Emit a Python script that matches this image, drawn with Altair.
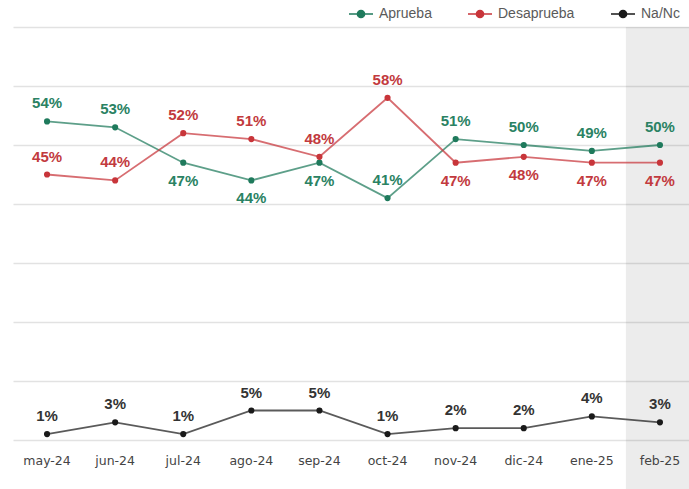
import altair as alt
import pandas as pd

months = ["may-24", "jun-24", "jul-24", "ago-24", "sep-24", "oct-24",
          "nov-24", "dic-24", "ene-25", "feb-25"]
series = ["Aprueba", "Desaprueba", "Na/Nc"]
aprueba = [54, 53, 47, 44, 47, 41, 51, 50, 49, 50]
desaprueba = [45, 44, 52, 51, 48, 58, 47, 48, 47, 47]
nanc = [1, 3, 1, 5, 5, 1, 2, 2, 4, 3]
# which side of the point each value label sits on
aprueba_side = ["above", "above", "below", "below", "below", "above", "above", "above", "above", "above"]
desaprueba_side = ["above", "above", "above", "above", "above", "above", "below", "below", "below", "below"]
nanc_side = ["above"] * 10
highlight = ["feb-25"]

colors = {"Aprueba": "#1f7a5c", "Desaprueba": "#c8353a", "Na/Nc": "#1a1a1a"}
label_colors = {"Aprueba": "#2a8263", "Desaprueba": "#c23a3e", "Na/Nc": "#333333"}

rows = []
for name, vals, sides in [("Aprueba", aprueba, aprueba_side),
                          ("Desaprueba", desaprueba, desaprueba_side),
                          ("Na/Nc", nanc, nanc_side)]:
    for m, v, s in zip(months, vals, sides):
        rows.append({"month": m, "serie": name, "value": v, "side": s,
                     "label": f"{v}%"})
df = pd.DataFrame(rows)
hl = pd.DataFrame({"month": highlight})

xscale = alt.Scale(type="band", domain=months, paddingInner=0, paddingOuter=0, range=[0, 681])
xenc = alt.X("month:N", sort=months, scale=xscale,
             axis=alt.Axis(title=None, labelAngle=0, labelAlign="center", bandPosition=0.5,
                           domain=False, ticks=False,
                           labelPadding=20, labelColor="#444444", labelFontSize=12.5,
                           labelFont="DejaVu Sans", grid=False))
yscale = alt.Scale(domain=[0, 70])
yenc = alt.Y("value:Q", scale=yscale,
             axis=alt.Axis(title=None, values=[0, 10, 20, 30, 40, 50, 60, 70],
                           labels=False, ticks=False, domain=False,
                           gridColor="#e2e2e2", gridWidth=1.5))

sym = "M-1,0L1,0M-0.3,0A0.3,0.3,0,1,0,0.3,0A0.3,0.3,0,1,0,-0.3,0Z"
cscale = alt.Scale(domain=series, range=[colors[s] for s in series])
color = alt.Color("serie:N", scale=cscale,
                  legend=alt.Legend(title=None, orient="none", direction="horizontal",
                                    legendX=335, legendY=-26, symbolType=sym,
                                    symbolSize=576, symbolStrokeWidth=1.5,
                                    symbolOpacity=1,
                                    labelFontSize=14, labelColor="#5a5a5a",
                                    labelFont="Liberation Sans", columnPadding=33,
                                    labelOffset=5))

shade = alt.Chart(hl).mark_rect(color="#000000", opacity=0.075).encode(
    x=alt.X("month:N", sort=months, scale=xscale),
    y=alt.value(0), y2=alt.value(462))

lines = alt.Chart(df).mark_line(strokeWidth=1.8, opacity=0.72).encode(
    x=xenc, y=yenc, color=color, detail="serie:N")
points = alt.Chart(df).mark_circle(size=38, opacity=1).encode(
    x=xenc, y=yenc, color=alt.Color("serie:N", scale=cscale))

texts = []
for s in series:
    for side, dy in [("above", -18), ("below", 18)]:
        texts.append(
            alt.Chart(df).transform_filter(
                (alt.datum.serie == s) & (alt.datum.side == side)
            ).mark_text(dy=dy, fontSize=15, fontWeight="bold", font="Liberation Sans",
                        color=label_colors[s]).encode(
                x=xenc, y=yenc, text="label:N")
        )

chart = alt.layer(shade, lines, points, *texts).properties(
    width=676, height=413,
    autosize=alt.AutoSizeParams(type="none"),
    padding={"left": 13, "top": 27, "right": 0, "bottom": 49},
).configure_view(stroke=None)

chart.save("out.html", embed_options={"renderer": "svg", "actions": False})
